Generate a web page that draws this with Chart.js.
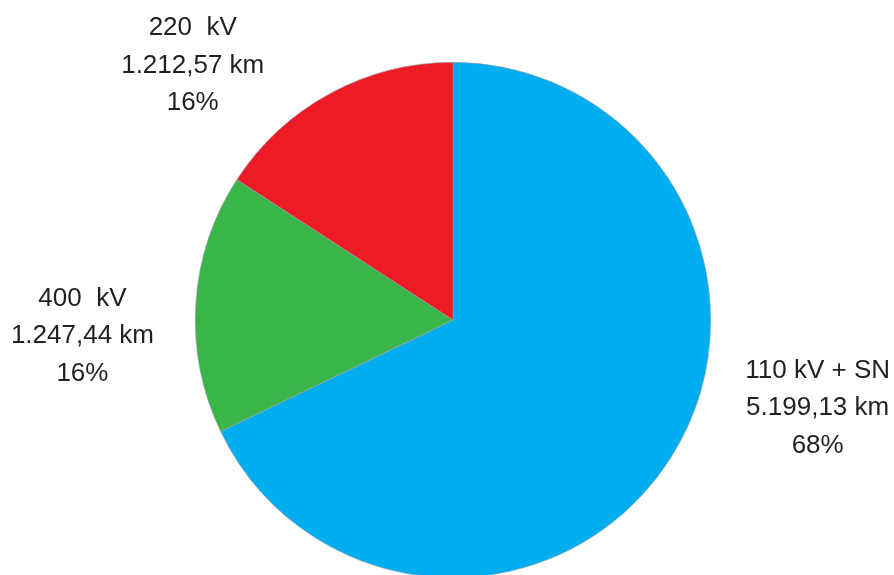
<!DOCTYPE html>
<html><head><meta charset="utf-8">
<script src="https://cdn.jsdelivr.net/npm/chart.js@4/dist/chart.umd.min.js"></script>
<style>
html,body{margin:0;padding:0;background:#fff;overflow:hidden;width:894px;height:575px}
#wrap{position:relative;width:894px;height:640px}
</style></head><body>
<div id="wrap"><canvas id="c" width="894" height="640"></canvas></div>
<script>
const categories = ['110 kV + SN', '400  kV', '220  kV'];
const lengthsKm = [5199.13, 1247.44, 1212.57];
const lengthLabels = ['5.199,13 km', '1.247,44 km', '1.212,57 km'];
const percentLabels = ['68%', '16%', '16%'];
const colors = ['#00AEEF', '#39B54A', '#ED1C24'];
// label anchor offsets in units of pie radius (relative to pie center)
const labelOffsets = [[1.415, 0.341], [-1.438, 0.062], [-1.01, -0.988]];

const labelPlugin = {
  id: 'sliceLabels',
  afterDraw(chart) {
    const ctx = chart.ctx;
    const meta = chart.getDatasetMeta(0);
    ctx.save();
    ctx.font = '26px "Liberation Sans", Arial, sans-serif';
    ctx.fillStyle = '#231F20';
    ctx.textAlign = 'center';
    ctx.textBaseline = 'middle';
    meta.data.forEach((arc, i) => {
      const r = arc.outerRadius;
      const cx = arc.x + labelOffsets[i][0] * r;
      const cy = arc.y + labelOffsets[i][1] * r;
      const lines = [categories[i], lengthLabels[i], percentLabels[i]];
      lines.forEach((t, j) => ctx.fillText(t, cx, cy + (j - 1) * 37.5));
    });
    ctx.restore();
  }
};

new Chart(document.getElementById('c'), {
  type: 'pie',
  data: {
    labels: categories,
    datasets: [{
      data: lengthsKm,
      backgroundColor: colors,
      borderColor: '#9aa0a6',
      borderWidth: 0.6
    }]
  },
  options: {
    responsive: false,
    animation: false,
    rotation: 0,
    layout: { padding: { top: 62, bottom: 62, left: 195, right: 183 } },
    plugins: { legend: { display: false }, tooltip: { enabled: false } }
  },
  plugins: [labelPlugin]
});
</script>
</body></html>
